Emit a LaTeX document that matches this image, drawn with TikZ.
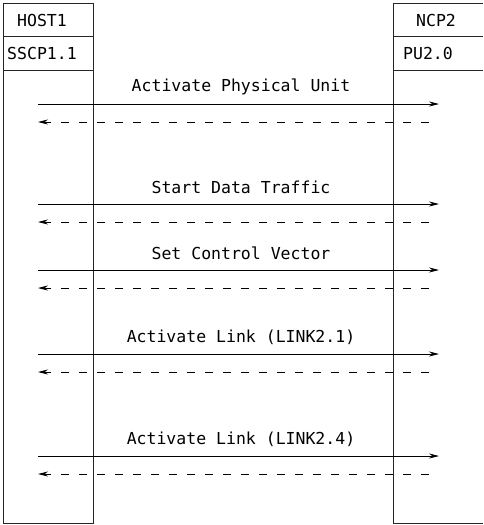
\documentclass[tikz,border=0pt]{standalone}
\usepackage{fontspec}
\setmonofont{DejaVu Sans Mono}
\usetikzlibrary{arrows.meta}
\begin{document}
\begin{tikzpicture}[x=1pt,y=-1pt,
  lbl/.style={font=\ttfamily\fontsize{16.5}{18}\selectfont, inner sep=0pt, anchor=center},
  boxline/.style={line width=0.9pt, black!85},
  req/.style={line width=0.8pt, -{Stealth[length=10pt,width=5pt]}},
  rsp/.style={line width=0.8pt, dash pattern=on 8pt off 10pt, -{Stealth[length=10pt,width=5pt]}}]
\useasboundingbox (0,0) rectangle (483,525);
% left column
\draw[boxline] (3,3) rectangle (93,523);
\draw[boxline] (3,36) -- (93,36);
\draw[boxline] (3,70) -- (93,70);
% right column
\draw[boxline] (483,3) -- (393,3) -- (393,523) -- (483,523);
\draw[boxline] (393,36) -- (483,36);
\draw[boxline] (393,70) -- (483,70);
\node[lbl] (host) at (42,20) {HOST1};
\node[lbl] (sscp) at (42,53) {SSCP1.1};
\node[lbl] (ncp) at (436,20) {NCP2};
\node[lbl] (pu) at (428,53) {PU2.0};
% message rows
\foreach \n/\ya/\yb/\yl/\t in {1/104/122/87/Activate Physical Unit,
  2/204/222/187/Start Data Traffic,
  3/270/288/253/Set Control Vector,
  4/354/372/337/Activate Link (LINK2.1),
  5/456/474/439/Activate Link (LINK2.4)}{
  \coordinate (ls\n) at (38,\ya);
  \coordinate (rs\n) at (439,\ya);
  \coordinate (lr\n) at (38,\yb);
  \coordinate (rr\n) at (429,\yb);
  \node[lbl] (m\n) at (241,\yl) {\t};
  \draw[req] (ls\n) -- (rs\n);
  \draw[rsp] (rr\n) -- (lr\n);
}
\end{tikzpicture}
\end{document}
